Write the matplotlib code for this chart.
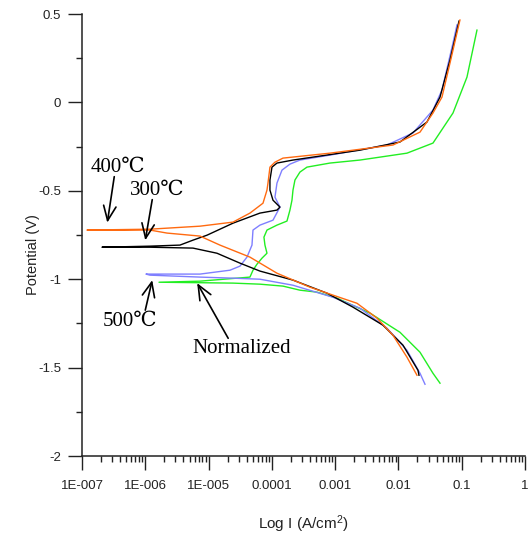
import numpy as np
import matplotlib
matplotlib.use("Agg")
import matplotlib.pyplot as plt
from matplotlib.ticker import FixedLocator, FixedFormatter, LogLocator, NullFormatter, MultipleLocator

plt.rcParams['font.family'] = ['Liberation Sans', 'DejaVu Sans']
plt.rcParams['mathtext.default'] = 'regular'

# ---- data: log10(I / A cm-2) and E (V) ----
# each curve runs cathodic end -> corrosion tip -> anodic end
orange_logi = [-1.707, -1.865, -2.086, -2.339, -2.655, -3.034, -3.398, -3.919, -4.346, -4.820,
               -5.136, -5.657, -5.926, -6.921,
               -5.926, -5.136, -4.614, -4.346, -4.140, -4.077, -4.061, -4.030, -3.951, -3.824,
               -3.082, -2.086, -1.659, -1.454, -1.312, -1.185, -1.028]
orange_e = [-1.543, -1.441, -1.317, -1.220, -1.136, -1.090, -1.045, -0.966, -0.875, -0.807,
            -0.756, -0.739, -0.722, -0.722,
            -0.717, -0.700, -0.677, -0.626, -0.570, -0.496, -0.456, -0.366, -0.338, -0.315,
            -0.287, -0.241, -0.168, -0.060, 0.030, 0.223, 0.466]

black_logi = [-1.675, -1.691, -1.928, -2.244, -2.718, -3.129, -3.666, -4.188, -4.504, -4.867,
              -5.246, -5.926, -6.684,
              -5.926, -5.452, -5.246, -5.025, -4.614, -4.188, -3.919, -3.872, -3.982, -4.030,
              -4.030, -3.998, -3.919, -3.666, -2.608, -1.976, -1.549, -1.343, -1.185, -1.043]
black_e = [-1.543, -1.515, -1.373, -1.260, -1.158, -1.079, -1.005, -0.954, -0.909, -0.853,
           -0.824, -0.819, -0.819,
           -0.813, -0.807, -0.779, -0.751, -0.683, -0.626, -0.609, -0.592, -0.553, -0.496,
           -0.439, -0.366, -0.343, -0.326, -0.270, -0.224, -0.111, 0.030, 0.240, 0.460]

blue_logi = [-1.580, -1.659, -1.865, -2.181, -2.608, -3.034, -3.666, -4.188, -4.614, -5.136,
             -5.926, -5.989,
             -5.562, -5.136, -4.662, -4.504, -4.393, -4.314, -4.298, -4.188, -3.982, -3.872,
             -3.951, -3.919, -3.840, -3.714, -3.556, -3.082, -2.181, -1.770, -1.454, -1.312,
             -1.138, -1.075]
blue_e = [-1.594, -1.532, -1.402, -1.277, -1.164, -1.102, -1.034, -1.000, -0.994, -0.988,
          -0.977, -0.971,
          -0.971, -0.971, -0.949, -0.926, -0.875, -0.807, -0.722, -0.694, -0.666, -0.592,
          -0.536, -0.456, -0.383, -0.349, -0.326, -0.298, -0.241, -0.173, -0.043, 0.070,
          0.336, 0.438]

green_logi = [-1.343, -1.454, -1.659, -1.976, -2.449, -2.971, -3.287, -3.556, -3.824, -4.188,
              -4.614, -5.783,
              -5.136, -4.346, -4.298, -4.235, -4.156, -4.077, -4.109, -4.125, -4.077, -3.919,
              -3.761, -3.714, -3.682, -3.666, -3.635, -3.556, -3.445, -3.082, -2.608, -1.865,
              -1.454, -1.138, -0.917, -0.759]
green_e = [-1.588, -1.532, -1.413, -1.300, -1.192, -1.107, -1.073, -1.062, -1.039, -1.028,
           -1.022, -1.017,
           -1.011, -0.988, -0.949, -0.915, -0.881, -0.853, -0.807, -0.762, -0.722, -0.694,
           -0.671, -0.609, -0.553, -0.496, -0.439, -0.394, -0.366, -0.343, -0.326, -0.287,
           -0.230, -0.060, 0.143, 0.409]

xtick_vals = [1e-7, 1e-6, 1e-5, 1e-4, 1e-3, 1e-2, 1e-1, 1]
xtick_labels = ['1E-007', '1E-006', '1E-005', '0.0001', '0.001', '0.01', '0.1', '1']
ytick_vals = [-2, -1.5, -1, -0.5, 0, 0.5]
ytick_labels = ['-2', '-1.5', '-1', '-0.5', '0', '0.5']

# label text, arrow tail, arrow tip  (log10 I, E)
notes = [
    ('400\u2103', (-6.43, -0.37), (-6.49, -0.42), (-6.60, -0.68)),
    ('300\u2103', (-5.81, -0.50), (-5.89, -0.55), (-6.00, -0.78)),
    ('500\u2103', (-6.24, -1.24), (-6.00, -1.175), (-5.89, -1.005)),
    ('Normalized', (-4.47, -1.39), (-4.69, -1.334), (-5.18, -1.022)),
]

fig = plt.figure(figsize=(5.31, 5.37), dpi=100)
ax = fig.add_axes([0.1544, 0.1508, 0.8343, 0.8231])

ax.plot(10 ** np.array(green_logi), green_e, color='#22ee22', lw=1.0)
ax.plot(10 ** np.array(blue_logi), blue_e, color='#7f7fff', lw=1.0)
ax.plot(10 ** np.array(black_logi), black_e, color='black', lw=1.0)
ax.plot(10 ** np.array(orange_logi), orange_e, color='#ff6a10', lw=1.0)

ax.set_xscale('log')
ax.set_xlim(1e-7, 1)
ax.set_ylim(-2, 0.5)

ax.xaxis.set_major_locator(FixedLocator(xtick_vals))
ax.xaxis.set_major_formatter(FixedFormatter(xtick_labels))
ax.xaxis.set_minor_locator(LogLocator(base=10, subs=np.arange(2, 10), numticks=20))
ax.xaxis.set_minor_formatter(NullFormatter())
ax.yaxis.set_major_locator(FixedLocator(ytick_vals))
ax.yaxis.set_major_formatter(FixedFormatter(ytick_labels))
ax.yaxis.set_minor_locator(MultipleLocator(0.25))

for s in ['top', 'right']:
    ax.spines[s].set_visible(False)
for s in ['left', 'bottom']:
    ax.spines[s].set_color('#222222')
    ax.spines[s].set_linewidth(1.1)

ax.tick_params(which='major', direction='out', length=10, width=1.0, color='#222222',
               labelsize=9.5, labelcolor='#222222', pad=5)
ax.tick_params(axis='x', which='major', pad=7)
ax.tick_params(which='minor', direction='out', length=4.5, width=1.0, color='#222222')

ax.set_xlabel('Log I (A/cm$^{2}$)', fontsize=11, color='#222222', labelpad=16)
ax.set_ylabel('Potential (V)', fontsize=10.5, color='#222222')
ax.yaxis.set_label_coords(-0.095, 0.455)

for label, txt, tail, tip in notes:
    ax.text(10 ** txt[0], txt[1], label, fontsize=15, ha='center', va='center',
            family=['Liberation Serif', 'DejaVu Serif'])
    ax.annotate('', xy=(10 ** tip[0], tip[1]), xytext=(10 ** tail[0], tail[1]),
                arrowprops=dict(arrowstyle='->,head_length=0.7,head_width=0.3',
                                lw=1.2, color='black', mutation_scale=15,
                                shrinkA=0, shrinkB=0))

fig.savefig('out.png', dpi=100)
